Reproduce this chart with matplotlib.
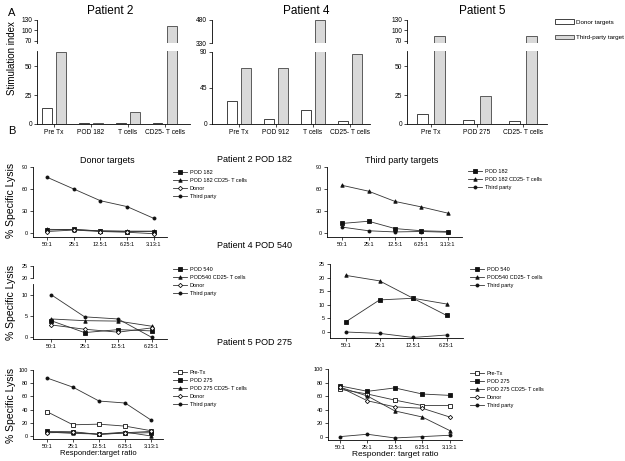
import matplotlib
matplotlib.use("Agg")
import matplotlib.pyplot as plt
from matplotlib.patches import Patch

plt.rcParams["font.family"] = ["Liberation Sans", "DejaVu Sans"]

# panel A - stimulation index (donor vs third party)
p2_cats = ["Pre Tx", "POD 182", "T cells", "CD25- T cells"]
p2_donor = [14, 1, 1, 1]
p2_third = [62, 1, 10, 113]
p4_cats = ["Pre Tx", "POD 912", "T cells", "CD25- T cells"]
p4_donor = [29, 6, 18, 4]
p4_third = [70, 70, 478, 87]
p5_cats = ["Pre Tx", "POD 275", "CD25- T cells"]
p5_donor = [8.6, 3.4, 2.6]
p5_third = [84, 24, 84]

# panel B - % specific lysis
ratios5 = ["50:1", "25:1", "12.5:1", "6.25:1", "3.13:1"]
ratios4 = ["50:1", "25:1", "12.5:1", "6.25:1"]

p2_dt_pod = [4, 5, 2.5, 2, 2]
p2_dt_cd25 = [5, 4.5, 3, 2.5, 2.5]
p2_dt_donor = [2, 4, 2, 1, -1]
p2_dt_third = [76, 60, 44, 36, 20]
p2_tp_pod = [13, 16, 6, 3, 2]
p2_tp_cd25 = [65, 57, 43, 35.5, 27]
p2_tp_third = [8, 3, 1.4, 2, 1]

p4_dt_pod = [3.9, 1.1, 1.8, 1.5]
p4_dt_cd25 = [4.3, 3.9, 3.8, 2.6]
p4_dt_donor = [2.9, 1.9, 1.2, 2.2]
p4_dt_third = [10, 4.8, 4.3, 0]
p4_tp_pod = [3.8, 11.8, 12.4, 6.1]
p4_tp_cd25 = [20.8, 18.8, 12.4, 10.3]
p4_tp_third = [0, -0.5, -2, -1.1]

p5_dt_pretx = [37, 17, 18, 15, 8]
p5_dt_pod = [7, 6.5, 2.5, 4.5, 5]
p5_dt_cd25 = [6, 4, 3, 6, 0]
p5_dt_donor = [5, 5.5, 2.5, 5, 7]
p5_dt_third = [88, 74, 53, 50, 24]
p5_tp_pretx = [70, 63, 54, 46, 46]
p5_tp_pod = [75, 67, 72, 63, 61]
p5_tp_cd25 = [73, 60, 38, 29, 9]
p5_tp_donor = [73, 53, 44, 42, 29]
p5_tp_third = [0, 3.5, -2, 0, 2]

W, H = 625, 461
fig = plt.figure(figsize=(W / 100, H / 100), dpi=100)


def box(l, t, r, b):
    # pixel box -> figure fraction
    return [l / W, 1 - b / H, (r - l) / W, (b - t) / H]


def style(ax, fs=4.5, bottom=True):
    ax.spines["top"].set_visible(False)
    ax.spines["right"].set_visible(False)
    for s in ax.spines.values():
        s.set_linewidth(0.6)
    ax.tick_params(length=2, width=0.5, labelsize=fs, pad=1.5)
    if not bottom:
        ax.spines["bottom"].set_visible(False)
        ax.tick_params(axis="x", bottom=False, labelbottom=False)


def bar_panel(cats, donor, third, up_box, low_box, up_lim, low_lim,
              up_ticks, low_ticks, xlim, width, off, title, title_x):
    xs = range(len(cats))
    for b, lim, ticks, lower in [(up_box, up_lim, up_ticks, False),
                                 (low_box, low_lim, low_ticks, True)]:
        ax = fig.add_axes(box(*b))
        ax.bar([x - off for x in xs], donor, width, color="white",
               edgecolor="#222222", linewidth=0.6)
        ax.bar([x + off for x in xs], third, width, color="#d9d9d9",
               edgecolor="#444444", linewidth=0.6)
        ax.set_ylim(*lim)
        ax.set_yticks(ticks)
        ax.set_xlim(*xlim)
        style(ax, fs=4.8, bottom=lower)
        if lower:
            ax.set_xticks(list(xs))
            ax.set_xticklabels(cats)
    fig.text(title_x / W, 1 - 11 / H, title, fontsize=8.5, ha="center", va="center")


def line_panel(b, xlabels, series, ylim, yticks, xlim, leg_xy, title=None,
               title_x=None, xlabel=None, xlabel_fs=5):
    ax = fig.add_axes(box(*b))
    xs = range(len(xlabels))
    for label, vals, marker, filled, ms in series:
        ax.plot(xs, vals, color="#333333", lw=0.6, marker=marker, ms=ms,
                mfc="#111111" if filled else "white", mec="#111111", mew=0.6,
                label=label)
    ax.set_ylim(*ylim)
    ax.set_yticks(yticks)
    ax.set_xlim(*xlim)
    ax.set_xticks(list(xs))
    ax.set_xticklabels(xlabels)
    style(ax, fs=4)
    ax.legend(loc="upper left", bbox_to_anchor=(leg_xy[0] / W, 1 - leg_xy[1] / H),
              bbox_transform=fig.transFigure, frameon=False, fontsize=4,
              handlelength=2.6, handletextpad=0.4, labelspacing=0.55,
              borderpad=0, borderaxespad=0)
    if title:
        fig.text(title_x / W, 1 - 160 / H, title, fontsize=6.5, ha="center", va="center")
    if xlabel:
        ax.set_xlabel(xlabel, fontsize=xlabel_fs, labelpad=1)
    return ax


def main():
    # ---- panel A ----
    bar_panel(p2_cats, p2_donor, p2_third, (37, 20, 190, 43), (37, 51, 190, 124),
              (64, 130), (0, 63), [70, 100, 130], [0, 25, 50], (-0.46, 3.68),
              0.25, 0.19, "Patient 2", 110)
    bar_panel(p4_cats, p4_donor, p4_third, (212, 20, 370, 43), (212, 52, 370, 124),
              (330, 480), (0, 90), [330, 480], [0, 45, 90], (-0.73, 3.54),
              0.25, 0.19, "Patient 4", 306)
    bar_panel(p5_cats, p5_donor, p5_third, (407, 20, 547, 43), (407, 51, 547, 124),
              (64, 130), (0, 63), [70, 100, 130], [0, 25, 50], (-0.52, 2.52),
              0.24, 0.185, "Patient 5", 482)

    handles = [Patch(facecolor="white", edgecolor="#222222", lw=0.6),
               Patch(facecolor="#d9d9d9", edgecolor="#444444", lw=0.6)]
    fig.legend(handles, ["Donor targets", "Third-party target"], loc="upper left",
               bbox_to_anchor=(555 / W, 1 - 19 / H), frameon=False, fontsize=4.5,
               handlelength=3, handleheight=0.8, handletextpad=0.4,
               labelspacing=1.6, borderpad=0, borderaxespad=0)

    fig.text(7 / W, 1 - 58 / H, "Stimulation index", fontsize=7, rotation=90,
             ha="left", va="center")
    fig.text(8 / W, 1 - 13 / H, "A", fontsize=8, va="center")
    fig.text(8 / W, 1 - 131 / H, "B", fontsize=8, va="center")

    # ---- panel B, patient 2 ----
    line_panel((33, 167, 167, 237), ratios5,
               [("POD 182", p2_dt_pod, "s", True, 2.5),
                ("POD 182 CD25- T cells", p2_dt_cd25, "^", True, 2.5),
                ("Donor", p2_dt_donor, "D", False, 2.2),
                ("Third party", p2_dt_third, "o", True, 2.2)],
               (-5.5, 90), [0, 30, 60, 90], (-0.53, 4.5), (173, 170),
               title="Donor targets", title_x=107)
    line_panel((327, 167, 462, 237), ratios5,
               [("POD 182", p2_tp_pod, "s", True, 2.5),
                ("POD 182 CD25- T cells", p2_tp_cd25, "^", True, 2.5),
                ("Third party", p2_tp_third, "o", True, 2.2)],
               (-5.5, 90), [0, 30, 60, 90], (-0.57, 4.53), (468, 169),
               title="Third party targets", title_x=402)

    # ---- patient 4 (left one has a broken y axis) ----
    ax_up = fig.add_axes(box(33, 266, 167, 278))
    ax_up.set_ylim(20, 25)
    ax_up.set_yticks([20, 25])
    ax_up.set_xlim(-0.54, 3.46)
    style(ax_up, fs=4, bottom=False)
    line_panel((33, 284, 167, 339), ratios4,
               [("POD 540", p4_dt_pod, "s", True, 2.5),
                ("POD540 CD25- T cells", p4_dt_cd25, "^", True, 2.5),
                ("Donor", p4_dt_donor, "D", False, 2.2),
                ("Third party", p4_dt_third, "o", True, 2.2)],
               (-0.4, 12.5), [0, 5, 10], (-0.54, 3.46), (173, 267))
    line_panel((330, 264, 463, 338), ratios4,
               [("POD 540", p4_tp_pod, "s", True, 2.5),
                ("POD540 CD25- T cells", p4_tp_cd25, "^", True, 2.5),
                ("Third party", p4_tp_third, "o", True, 2.2)],
               (-2.2, 25), [0, 5, 10, 15, 20, 25], (-0.48, 3.49), (470, 267))

    # ---- patient 5 ----
    line_panel((33, 370, 163, 439), ratios5,
               [("Pre-Tx", p5_dt_pretx, "s", False, 2.8),
                ("POD 275", p5_dt_pod, "s", True, 2.8),
                ("POD 275 CD25- T cells", p5_dt_cd25, "^", True, 2.5),
                ("Donor", p5_dt_donor, "D", False, 2.2),
                ("Third party", p5_dt_third, "o", True, 2.2)],
               (-4.5, 100), [0, 20, 40, 60, 80, 100], (-0.53, 4.45), (173, 370),
               xlabel="Responder:target ratio", xlabel_fs=5.5)
    line_panel((328, 369, 462, 440), ratios5,
               [("Pre-Tx", p5_tp_pretx, "s", False, 2.8),
                ("POD 275", p5_tp_pod, "s", True, 2.8),
                ("POD 275 CD25- T cells", p5_tp_cd25, "^", True, 2.5),
                ("Donor", p5_tp_donor, "D", False, 2.2),
                ("Third party", p5_tp_third, "o", True, 2.2)],
               (-5, 100), [0, 20, 40, 60, 80, 100], (-0.44, 4.45), (470, 371),
               xlabel="Responder: target ratio", xlabel_fs=6)

    # patient labels in the middle column
    fig.text(255 / W, 1 - 159 / H, "Patient 2 POD 182", fontsize=6.5, ha="center", va="center")
    fig.text(255 / W, 1 - 245 / H, "Patient 4 POD 540", fontsize=6.5, ha="center", va="center")
    fig.text(255 / W, 1 - 342 / H, "Patient 5 POD 275", fontsize=6.5, ha="center", va="center")

    # y labels for the lysis rows
    for yc in [200, 302, 405]:
        fig.text(6 / W, 1 - yc / H, "% Specific Lysis", fontsize=7.5, rotation=90,
                 ha="left", va="center")

    fig.savefig("out.png", dpi=100)


main()
